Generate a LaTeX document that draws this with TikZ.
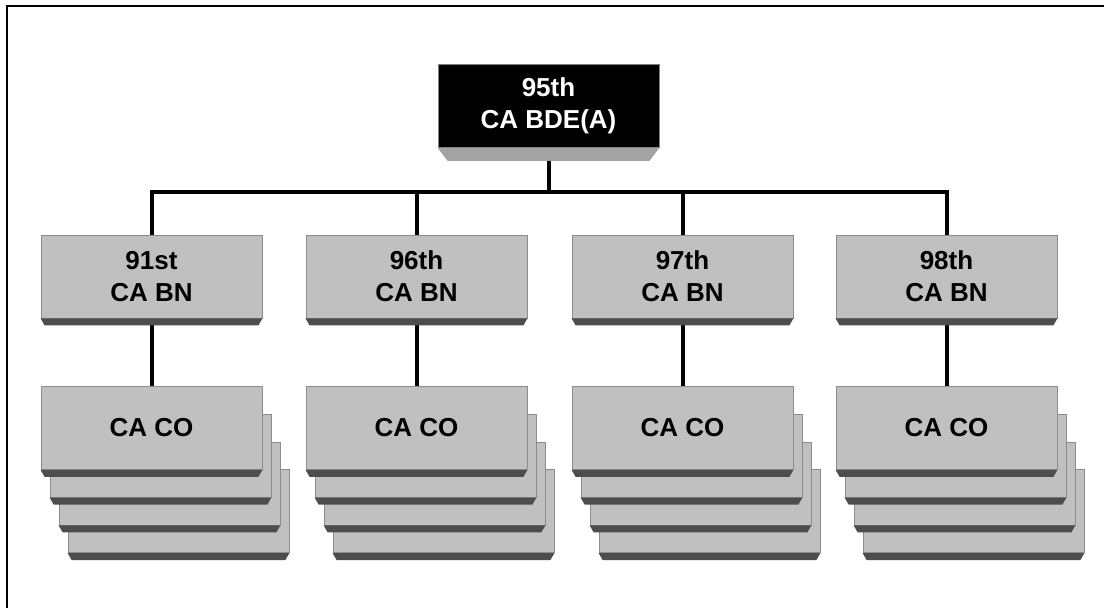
\documentclass[tikz,border=0pt]{standalone}
\usepackage{fontspec}
\setmainfont{Liberation Sans}
\usetikzlibrary{calc,backgrounds}
\definecolor{face}{HTML}{C0C0C0}
\definecolor{edge}{HTML}{8C8C8C}
\definecolor{bev}{HTML}{4D4D4D}
\definecolor{bevtop}{HTML}{A3A3A3}
\tikzset{
  unit/.style={rectangle, minimum width=221pt, minimum height=83pt, inner sep=0pt,
    fill=face, draw=edge, line width=0.8pt,
    font=\fontsize{26}{32}\selectfont\bfseries, align=center},
  hq/.style={unit, fill=black, text=white, draw=gray},
  conn/.style={line width=4pt, black},
  frameline/.style={line width=2pt, black},
}
\newcommand\bevelof[4]{% name, colour, depth, inset
  \fill[#2] (#1.south west) -- (#1.south east) -- ($(#1.south east)+(-#4,#3)$) -- ($(#1.south west)+(#4,#3)$) -- cycle;}
\begin{document}
\begin{tikzpicture}[x=1pt,y=-1pt]
\useasboundingbox (0,0) rectangle (1104,608);
\draw[frameline] (7,6) rectangle (1112,616);
% headquarters
\node[hq] (bde) at (548.5,106) {95th\\CA BDE(A)};
\bevelof{bde}{bevtop}{13}{10}
\coordinate (bar) at (548.5,192);
% battalions and companies
\foreach \i/\cx/\lab in {1/151.5/91st, 2/416.5/96th, 3/682.5/97th, 4/946.5/98th} {
  \foreach \k in {3,2,1} {
    \node[unit] (co\i-\k) at (\cx+9*\k, 428+27.7*\k) {};
    \bevelof{co\i-\k}{bev}{7}{4}
  }
  \node[unit] (co\i) at (\cx,428) {CA CO};
  \bevelof{co\i}{bev}{7}{4}
  \node[unit] (bn\i) at (\cx,276.5) {\lab\\CA BN};
  \bevelof{bn\i}{bev}{7}{4}
}
\begin{scope}[on background layer]
  \draw[conn] (bde.south) -- (bar);
  \draw[conn] (bn1.north) |- (bar) -| (bn4.north);
  \draw[conn] (bn2.north) -- (bn2.north |- bar);
  \draw[conn] (bn3.north) -- (bn3.north |- bar);
  \foreach \i in {1,2,3,4} {
    \draw[conn] (bn\i.south) -- (co\i.north);
  }
\end{scope}
\end{tikzpicture}
\end{document}
